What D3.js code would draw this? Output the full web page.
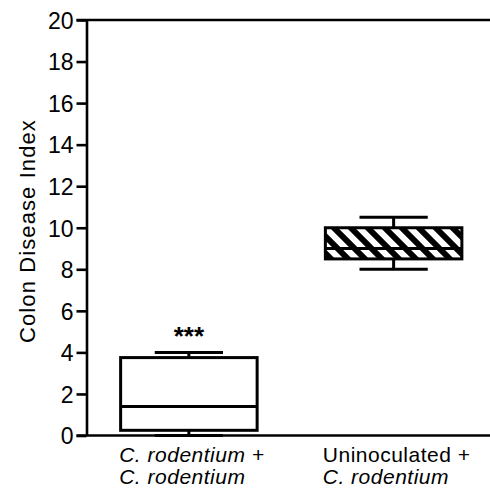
<!DOCTYPE html>
<html>
<head>
<meta charset="utf-8">
<script src="https://cdn.jsdelivr.net/npm/d3@7"></script>
<style>
  html, body { margin: 0; padding: 0; background: #fff; }
  svg { display: block; }
  text { font-family: "Liberation Sans", Arial, Helvetica, sans-serif; fill: #000; }
</style>
</head>
<body>
<svg id="chart" width="490" height="493"></svg>
<script>
// Groups and box-plot summaries (min, Q1, median, Q3, max)
const groups = ["rodentium", "uninoculated"];
const groupLine1 = [["C. rodentium +", true], ["Uninoculated +", false]];
const groupLine2 = ["C. rodentium", "C. rodentium"];
const mins    = [0,    8];
const q1s     = [0.25, 8.5];
const medians = [1.4,  9];
const q3s     = [3.75, 10];
const maxs    = [4,    10.5];
const hatched = [false, true];
const significance = ["***", ""];
const yTicks = [0, 2, 4, 6, 8, 10, 12, 14, 16, 18, 20];
const yTitle = "Colon Disease Index";

const svg = d3.select("#chart");
const plotLeft = 86.5, plotRight = 496, plotTop = 20, plotBottom = 435.5;

const x = d3.scalePoint().domain(groups).range([plotLeft, plotRight]).padding(0.5);
const y = d3.scaleLinear().domain([0, 20]).range([plotBottom, plotTop]);
const boxW = x.step() * 2 / 3;
const capW = boxW / 2;

// diagonal hatch fill
const defs = svg.append("defs");
const pat = defs.append("pattern")
  .attr("id", "hatch")
  .attr("patternUnits", "userSpaceOnUse")
  .attr("width", 12).attr("height", 12)
  .attr("patternTransform", "rotate(-45)");
pat.append("rect").attr("width", 12).attr("height", 12).attr("fill", "#fff");
pat.append("rect").attr("x", 0).attr("width", 6).attr("height", 12).attr("fill", "#000");

// y axis
const yAxis = d3.axisLeft(y).tickValues(yTicks).tickSize(10).tickSizeOuter(0).tickPadding(3);
const gy = svg.append("g").attr("transform", `translate(${plotLeft},0)`).call(yAxis);
gy.attr("font-size", 23).attr("font-family", "'Liberation Sans', Arial, sans-serif");
gy.select(".domain").attr("stroke", "#000").attr("stroke-width", 2.6);
gy.selectAll(".tick line").attr("stroke", "#000").attr("stroke-width", 2.6);
gy.selectAll(".tick text").attr("fill", "#000").attr("dy", "0.36em");

// top and bottom frame lines
svg.append("line").attr("x1", plotLeft - 10).attr("x2", 490).attr("y1", y(20)).attr("y2", y(20))
  .attr("stroke", "#000").attr("stroke-width", 2.6);
svg.append("line").attr("x1", plotLeft - 10).attr("x2", 490).attr("y1", y(0)).attr("y2", y(0))
  .attr("stroke", "#000").attr("stroke-width", 2.6);

// y title
svg.append("text")
  .attr("transform", `translate(35, 231) rotate(-90)`)
  .attr("text-anchor", "middle")
  .attr("font-size", 22)
  .attr("letter-spacing", 1.1)
  .text(yTitle);

// boxes
const g = svg.append("g");
groups.forEach((grp, i) => {
  const cx = x(grp);
  const sw = 3;
  g.append("line").attr("x1", cx).attr("x2", cx).attr("y1", y(maxs[i])).attr("y2", y(q3s[i]))
    .attr("stroke", "#000").attr("stroke-width", sw);
  g.append("line").attr("x1", cx).attr("x2", cx).attr("y1", y(q1s[i])).attr("y2", y(mins[i]))
    .attr("stroke", "#000").attr("stroke-width", sw);
  g.append("line").attr("x1", cx - capW / 2).attr("x2", cx + capW / 2)
    .attr("y1", y(maxs[i])).attr("y2", y(maxs[i])).attr("stroke", "#000").attr("stroke-width", sw);
  g.append("line").attr("x1", cx - capW / 2).attr("x2", cx + capW / 2)
    .attr("y1", y(mins[i])).attr("y2", y(mins[i])).attr("stroke", "#000").attr("stroke-width", sw);
  g.append("rect")
    .attr("x", cx - boxW / 2).attr("width", boxW)
    .attr("y", y(q3s[i])).attr("height", y(q1s[i]) - y(q3s[i]))
    .attr("fill", hatched[i] ? "url(#hatch)" : "#fff")
    .attr("stroke", "#000").attr("stroke-width", sw);
  g.append("line").attr("x1", cx - boxW / 2).attr("x2", cx + boxW / 2)
    .attr("y1", y(medians[i])).attr("y2", y(medians[i]))
    .attr("stroke", "#000").attr("stroke-width", sw);
  if (significance[i]) {
    g.append("text").attr("x", cx).attr("y", y(maxs[i]) - 7)
      .attr("text-anchor", "middle").attr("font-size", 26).attr("font-weight", "bold")
      .text(significance[i]);
  }
});

// category labels: two lines, left-aligned, block centered under each box
groups.forEach((grp, i) => {
  const [line1, ital] = groupLine1[i];
  const l1 = svg.append("text").attr("font-size", 21).attr("letter-spacing", 0.5)
    .attr("y", 461.5).attr("font-style", ital ? "italic" : "normal").text(line1);
  const l2 = svg.append("text").attr("font-size", 21).attr("letter-spacing", 0.5)
    .attr("y", 483.5).attr("font-style", "italic").text(groupLine2[i]);
  const w = Math.max(l1.node().getComputedTextLength(), l2.node().getComputedTextLength());
  const x0 = x(grp) + 3 - w / 2;
  l1.attr("x", x0);
  l2.attr("x", x0);
});
</script>
</body>
</html>
